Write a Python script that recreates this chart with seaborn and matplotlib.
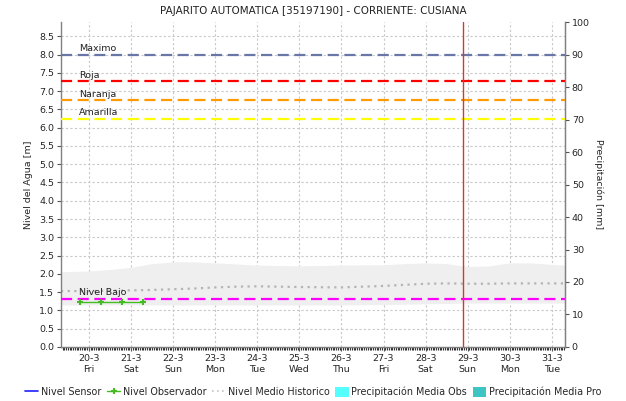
import numpy as np
import matplotlib
matplotlib.use("Agg")
import matplotlib.pyplot as plt
from matplotlib.ticker import MultipleLocator, FormatStrFormatter
from matplotlib.lines import Line2D
from matplotlib.patches import Patch
import seaborn as sns

# --- data (x in days, 0 = 20-3) ---
day_labels = ["20-3\nFri", "21-3\nSat", "22-3\nSun", "23-3\nMon", "24-3\nTue", "25-3\nWed",
              "26-3\nThu", "27-3\nFri", "28-3\nSat", "29-3\nSun", "30-3\nMon", "31-3\nTue"]

obs_x = [-0.21, 0.285, 0.79, 1.29]
obs_y = [1.24, 1.24, 1.24, 1.24]

hist_x = [-0.665, 0, 0.5, 1, 1.5, 2, 2.5, 3, 3.5, 4, 5, 6, 7, 7.5, 8, 8.5, 9, 9.5, 10, 10.5, 11, 11.31]
hist_upper = [2.06, 2.08, 2.12, 2.18, 2.28, 2.33, 2.33, 2.30, 2.27, 2.24, 2.22, 2.24, 2.25,
              2.28, 2.30, 2.28, 2.20, 2.22, 2.30, 2.30, 2.26, 2.24]
hist_lower = [1.15, 1.15, 1.15, 1.15, 1.15, 1.15, 1.15, 1.15, 1.15, 1.15, 1.15, 1.15, 1.16,
              1.17, 1.18, 1.19, 1.20, 1.20, 1.20, 1.20, 1.20, 1.20]
hist_median = [1.53, 1.53, 1.54, 1.55, 1.56, 1.58, 1.60, 1.63, 1.65, 1.66, 1.64, 1.63, 1.67,
               1.70, 1.73, 1.74, 1.73, 1.73, 1.74, 1.74, 1.74, 1.74]

level_names = ["Maximo", "Roja", "Naranja", "Amarilla", "Nivel Bajo"]
level_values = [8.0, 7.27, 6.75, 6.25, 1.32]
level_colors = ["#6877a8", "#ff0000", "#ff9a00", "#ffff00", "#ff00ff"]

now_x = 8.88

sns.set_style("white")
plt.rcParams['font.family'] = ['DejaVu Sans']

fig = plt.figure(figsize=(6.26, 4.01), dpi=100)
ax = fig.add_axes([0.0974, 0.1347, 0.805, 0.8103])

# historic band + median
ax.fill_between(hist_x, hist_lower, hist_upper, color="#efefef", lw=0, zorder=1)
sns.lineplot(x=hist_x, y=hist_median, ax=ax, color="#b4b4b4", lw=1.6, linestyle=(0, (1, 2)), zorder=2)

# threshold levels
for name, val, col in zip(level_names, level_values, level_colors):
    ax.axhline(val, color=col, lw=1.6, dashes=(5, 2.5), zorder=3)
    ax.text(-0.24, val + 0.04, name, fontsize=6.8, color="#222222", va="bottom", ha="left", zorder=5)

# observer level
ax.plot(obs_x, obs_y, color="#44bb22", lw=1, marker="+", markersize=4,
        markeredgewidth=1.5, zorder=4)

ax.axvline(now_x, color="#dd3333", lw=1, zorder=4)

ax.set_xlim(-0.665, 11.31)
ax.set_ylim(0, 8.0 * 100 / 90)
ax.set_xticks(range(len(day_labels)))
ax.set_xticklabels(day_labels, fontsize=6.8, linespacing=1.25)
ax.xaxis.set_minor_locator(MultipleLocator(1 / 24))
ax.yaxis.set_major_locator(MultipleLocator(0.5))
ax.yaxis.set_major_formatter(FormatStrFormatter("%.1f"))
ax.tick_params(axis="y", left=True, labelsize=6.8, length=3, width=0.8, color="#555555", pad=2)
ax.tick_params(axis="x", which="major", bottom=True, length=3, width=0.8, color="#555555", pad=2)
ax.tick_params(axis="x", which="minor", bottom=True, length=2.2, width=0.8, color="#333333")
ax.grid(True, which="major", color="#c8c8c8", linestyle=(0, (2, 2)), lw=0.8)
ax.set_axisbelow(True)
ax.set_ylabel("Nivel del Agua [m]", fontsize=6.8, labelpad=4)

for side in ["left", "bottom", "right"]:
    ax.spines[side].set_color("#808080")
    ax.spines[side].set_linewidth(1)
ax.spines["top"].set_visible(False)

ax2 = ax.twinx()
ax2.set_ylim(0, 100)
ax2.yaxis.set_major_locator(MultipleLocator(10))
ax2.tick_params(axis="y", right=True, labelsize=6.8, length=3, width=0.8, color="#555555", pad=2)
ax2.set_ylabel("Precipitación [mm]", fontsize=6.8, rotation=270, labelpad=10)
for side in ["left", "bottom", "top"]:
    ax2.spines[side].set_visible(False)
ax2.spines["right"].set_color("#808080")

fig.suptitle("PAJARITO AUTOMATICA [35197190] - CORRIENTE: CUSIANA", fontsize=7.5,
             y=0.985, color="#222222")

handles = [
    Line2D([], [], color="#1f1fff", lw=1.2),
    Line2D([], [], color="#44bb22", lw=1, marker="+", markersize=4, markeredgewidth=1.5),
    Line2D([], [], color="#c4c4c4", lw=1.2, linestyle=(0, (1, 2))),
    Patch(facecolor="#55ffff", edgecolor="none"),
    Patch(facecolor="#3fc4c4", edgecolor="none"),
]
labels = ["Nivel Sensor", "Nivel Observador", "Nivel Medio Historico",
          "Precipitación Media Obs", "Precipitación Media Pro"]
fig.legend(handles, labels, loc="center", bbox_to_anchor=(0.5, 0.022), ncol=5, frameon=False,
           fontsize=6.9, handlelength=1.4, handletextpad=0.25, columnspacing=0.6,
           handleheight=1.2)

fig.savefig("out.png", dpi=100)
